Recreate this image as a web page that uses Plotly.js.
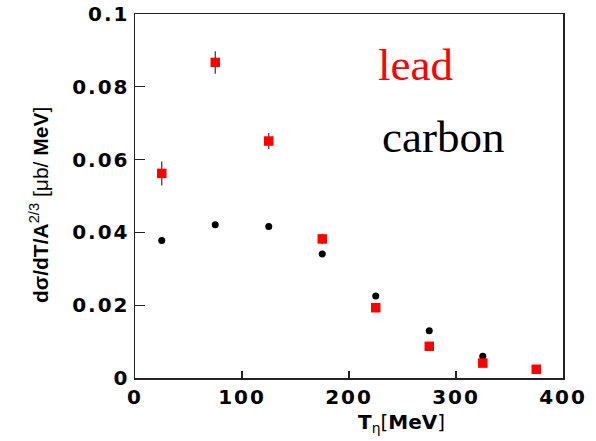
<!DOCTYPE html>
<html>
<head>
<meta charset="utf-8">
<script src="https://cdn.plot.ly/plotly-3.0.1.min.js"></script>
<style>
  html, body { margin: 0; padding: 0; background: #fff; }
  #chart { width: 596px; height: 441px; }
  .xtick text, .ytick text { letter-spacing: 2px; }
  .annotation-text.xtitle-like { letter-spacing: 1px; }
</style>
</head>
<body>
<div id="chart"></div>
<script>
// Data
const tEta = [25, 75, 125, 175, 225, 275, 325, 375];
const leadValues = [0.0562, 0.0867, 0.0651, 0.0382, 0.0193, 0.0087, 0.0041, 0.0024];
const leadErrors = [0.0033, 0.0031, 0.0022, 0.0014, 0.0006, 0.0004, 0.0003, 0.0002];
const carbonValues = [0.0378, 0.0421, 0.0416, 0.0341, 0.0225, 0.0130, 0.0060, 0.0022];
const carbonErrors = [0.0008, 0.0005, 0.0004, 0.0004, 0.0004, 0.0003, 0.0002, 0.0002];
const xTickValues = [0, 100, 200, 300, 400];
const yTickValues = [0, 0.02, 0.04, 0.06, 0.08, 0.1];
const yTickLabels = ["0", "0.02", "0.04", "0.06", "0.08", "0.1"];

// plot area in pixels
const L = 135, R = 563, T = 14, B = 378, W = 596, H = 441;
const px = x => (x - L) / (R - L);
const py = y => (B - y) / (B - T);

const tickFont = {family: "DejaVu Sans, Arial, sans-serif", size: 20, color: "#000", weight: 700};

const traces = [
  {
    x: tEta, y: carbonValues, type: "scatter", mode: "markers", name: "carbon",
    marker: {symbol: "circle", size: 7, color: "#000"},
    error_y: {type: "data", array: carbonErrors, visible: true, color: "#222", thickness: 1.2, width: 0}
  },
  {
    x: tEta, y: leadValues, type: "scatter", mode: "markers", name: "lead",
    marker: {symbol: "square", size: 9.5, color: "#ff0000"},
    error_y: {type: "data", array: leadErrors, visible: true, color: "#333", thickness: 1.2, width: 0}
  }
];

const layout = {
  width: W, height: H,
  margin: {l: L, r: W - R, t: T, b: H - B, pad: 0},
  paper_bgcolor: "#fff", plot_bgcolor: "#fff",
  showlegend: false,
  xaxis: {
    range: [0, 400], tickvals: xTickValues, ticktext: xTickValues.map(String),
    ticks: "inside", ticklen: 7, tickwidth: 1.2, tickcolor: "#222",
    showline: true, linecolor: "#222", linewidth: 1.5, mirror: true,
    showgrid: false, zeroline: false, tickfont: tickFont
  },
  yaxis: {
    range: [0, 0.1], tickvals: yTickValues, ticktext: yTickLabels,
    ticks: "inside", ticklen: 10, tickwidth: 1.2, tickcolor: "#222",
    showline: true, linecolor: "#222", linewidth: 1.5, mirror: true,
    showgrid: false, zeroline: false, tickfont: tickFont
  },
  annotations: [
    {xref: "paper", yref: "paper", x: px(376), y: py(65), xanchor: "left", yanchor: "middle",
     text: "lead", showarrow: false,
     font: {family: "Liberation Serif, Times New Roman, serif", size: 45, color: "#ff0000"}},
    {xref: "paper", yref: "paper", x: px(380), y: py(137), xanchor: "left", yanchor: "middle",
     text: "carbon", showarrow: false,
     font: {family: "Liberation Serif, Times New Roman, serif", size: 45, color: "#000"}},
    {xref: "paper", yref: "paper", x: px(39), y: py(205), xanchor: "center", yanchor: "middle",
     textangle: -90, showarrow: false,
     text: "<b>dσ/dT/A</b><sup>2/3</sup> [μb/ <b>MeV</b>]",
     font: {family: "Liberation Sans, Arial, sans-serif", size: 21, color: "#000"}},
    {xref: "paper", yref: "paper", x: px(401), y: py(423), xanchor: "center", yanchor: "middle",
     showarrow: false,
     text: "<b>T</b><sub>η</sub>[<b>MeV</b>]",
     font: {family: "DejaVu Sans, Arial, sans-serif", size: 20, color: "#000"}}
  ]
};

Plotly.newPlot("chart", traces, layout, {staticPlot: true, displayModeBar: false});
</script>
</body>
</html>
